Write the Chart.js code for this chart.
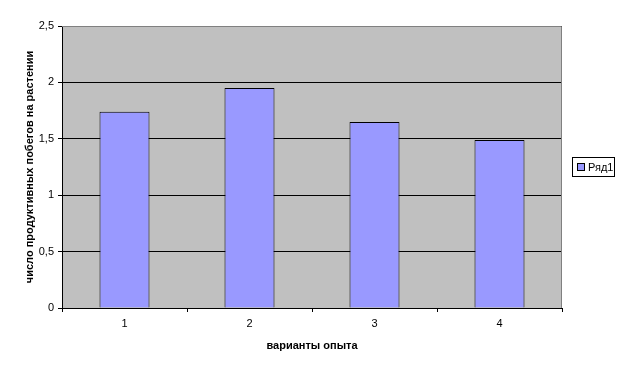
<!DOCTYPE html>
<html>
<head>
<meta charset="utf-8">
<script src="https://cdn.jsdelivr.net/npm/chart.js@4"></script>
<style>
  html, body { margin: 0; padding: 0; background: #fff; }
  #wrap { width: 624px; height: 372px; }
</style>
</head>
<body>
<div id="wrap"><canvas id="c" width="624" height="372"></canvas></div>
<script>
// данные графика
const categories = ['1', '2', '3', '4'];
const seriesName = 'Ряд1';
const seriesValues = [1.74, 1.95, 1.65, 1.49];
const yTicks = [0, 0.5, 1, 1.5, 2, 2.5];
const xTitle = 'варианты опыта';
const yTitle = 'число продуктивных побегов на растении';

const FONT = 'Arial, "Liberation Sans", sans-serif';

// серый фон области построения и рамка
const plotBg = {
  id: 'plotBg',
  beforeDraw(chart) {
    const { ctx, chartArea: a } = chart;
    ctx.save();
    ctx.fillStyle = '#C0C0C0';
    ctx.fillRect(a.left, a.top, a.right - a.left, a.bottom - a.top);
    ctx.restore();
  },
  afterDatasetsDraw(chart) {
    const { ctx, chartArea: a } = chart;
    ctx.save();
    ctx.strokeStyle = '#808080';
    ctx.lineWidth = 1;
    ctx.beginPath();
    ctx.moveTo(a.left, a.top + 0.5);
    ctx.lineTo(a.right - 0.5, a.top + 0.5);
    ctx.lineTo(a.right - 0.5, a.bottom);
    ctx.stroke();
    ctx.restore();
  }
};

// легенда в рамке справа
const boxLegend = {
  id: 'boxLegend',
  afterDraw(chart) {
    const { ctx } = chart;
    const ds = chart.data.datasets[0];
    ctx.save();
    ctx.fillStyle = '#fff';
    ctx.strokeStyle = '#000';
    ctx.lineWidth = 1;
    ctx.fillRect(572.5, 157.5, 42, 19);
    ctx.strokeRect(572.5, 157.5, 42, 19);
    ctx.fillStyle = ds.backgroundColor;
    ctx.fillRect(577.5, 163.5, 7, 7);
    ctx.strokeRect(577.5, 163.5, 7, 7);
    ctx.fillStyle = '#000';
    ctx.font = '11px ' + FONT;
    ctx.textBaseline = 'middle';
    ctx.fillText(ds.label, 588, 167.5);
    ctx.restore();
  }
};

new Chart(document.getElementById('c'), {
  type: 'bar',
  data: {
    labels: categories,
    datasets: [{
      label: seriesName,
      data: seriesValues,
      backgroundColor: '#9999FF',
      borderColor: '#000',
      borderWidth: 1,
      barPercentage: 0.4,
      categoryPercentage: 1
    }]
  },
  options: {
    responsive: false,
    animation: false,
    devicePixelRatio: 1,
    layout: { padding: { top: 26, right: 62, left: 0, bottom: 0 } },
    plugins: {
      legend: { display: false },
      tooltip: { enabled: false }
    },
    scales: {
      x: {
        offset: true,
        grid: {
          offset: true,
          drawOnChartArea: false,
          drawTicks: true,
          tickLength: 4,
          color: '#000'
        },
        border: { color: '#000', width: 1 },
        ticks: { color: '#000', font: { family: FONT, size: 11 }, padding: 5, maxRotation: 0 },
        title: {
          display: true,
          text: xTitle,
          color: '#000',
          font: { family: FONT, size: 11, weight: 'bold' },
          padding: { top: 0, bottom: 19 }
        },
        afterFit(s) { s.height = 64; }
      },
      y: {
        min: 0,
        max: 2.5,
        afterBuildTicks(s) { s.ticks = yTicks.map(v => ({ value: v })); },
        grid: {
          color: '#000',
          lineWidth: 1,
          drawTicks: true,
          tickLength: 4
        },
        border: { color: '#000', width: 1 },
        ticks: {
          color: '#000',
          font: { family: FONT, size: 11 },
          padding: 4,
          callback: v => String(v).replace('.', ',')
        },
        title: {
          display: true,
          text: yTitle,
          color: '#000',
          font: { family: FONT, size: 11, weight: 'bold' },
          padding: { top: 23, bottom: 0 }
        },
        afterFit(s) { s.width = 62; }
      }
    }
  },
  plugins: [plotBg, boxLegend]
});
</script>
</body>
</html>
